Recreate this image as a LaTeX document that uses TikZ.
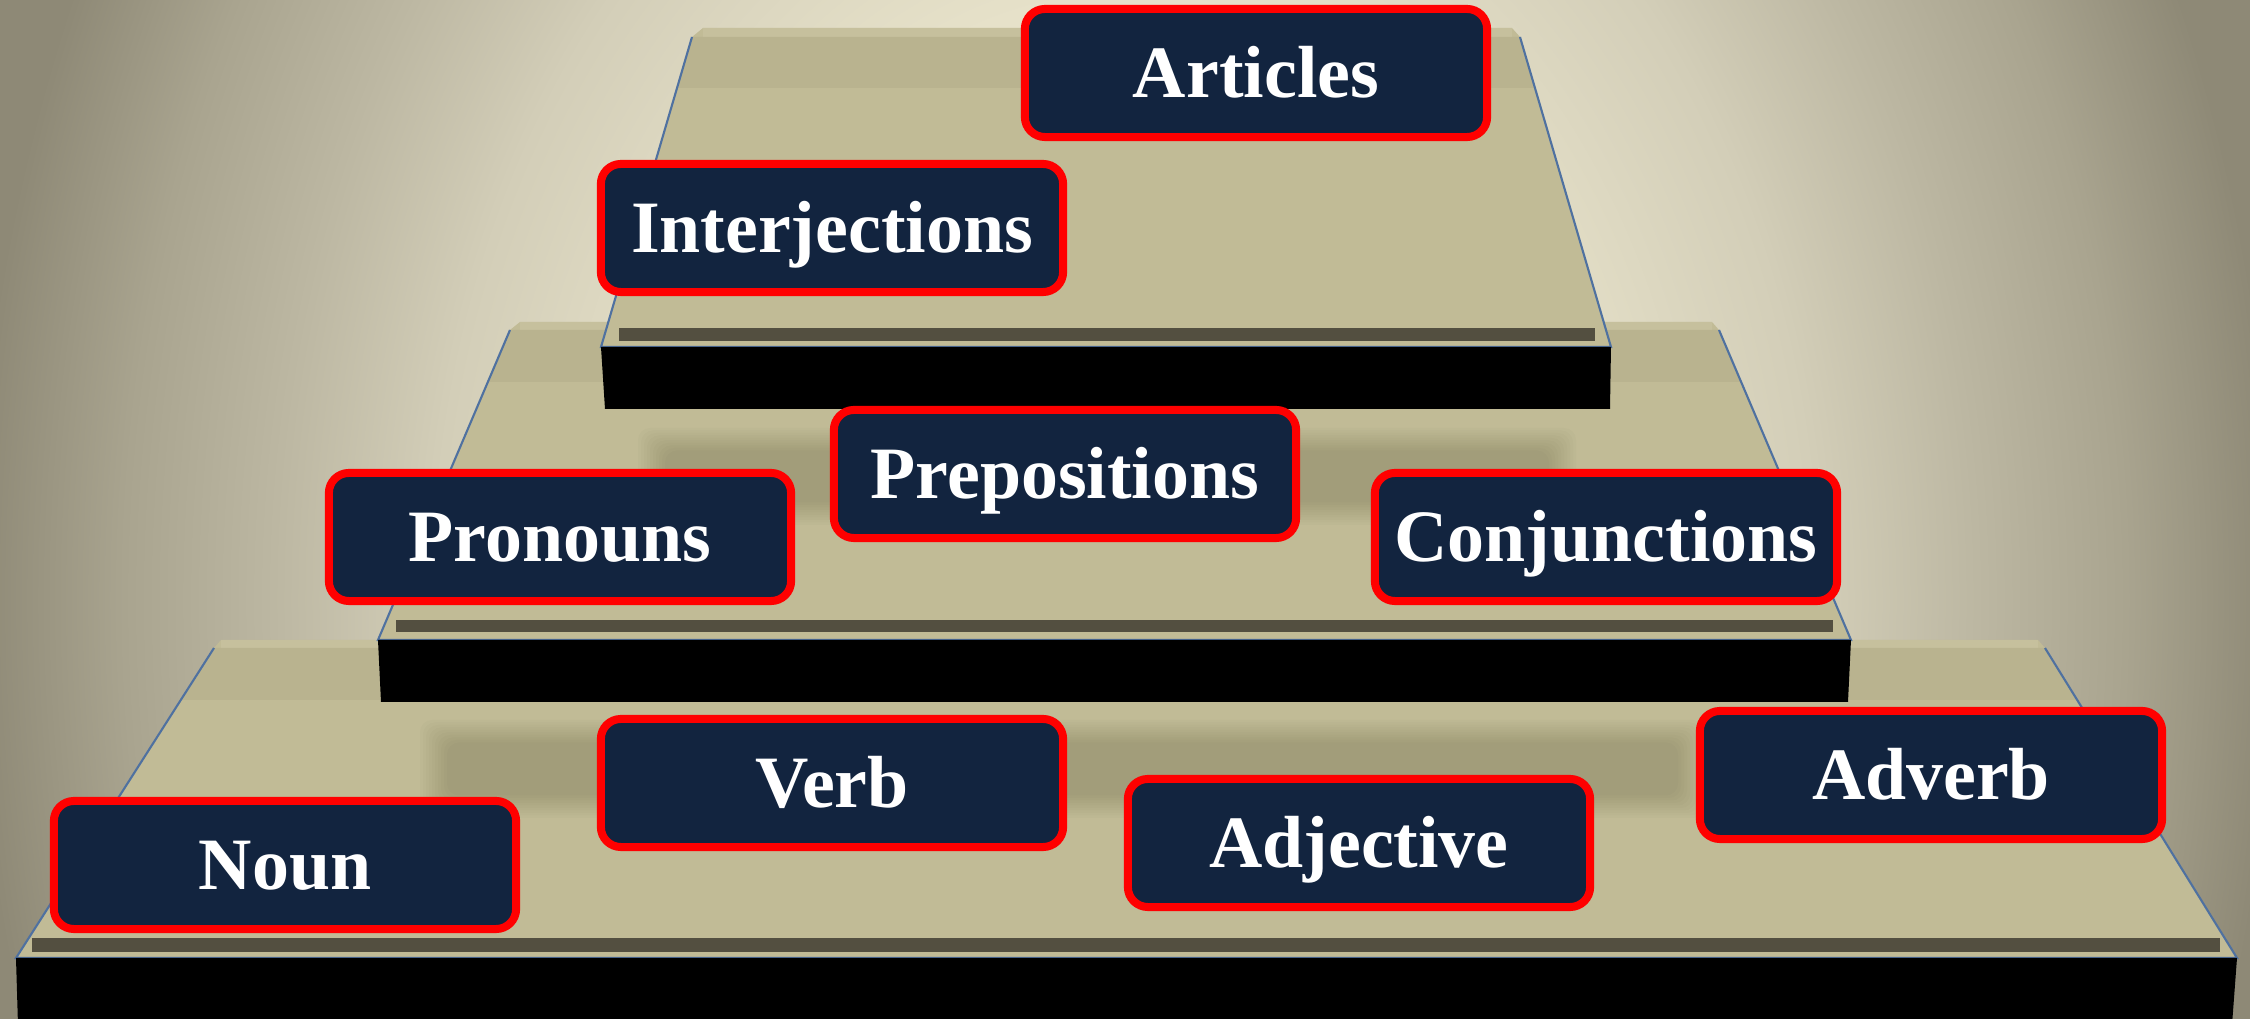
\documentclass[tikz,border=0pt]{standalone}
\usepackage{fontspec}
\setmainfont{Liberation Serif}
\definecolor{bgin}{HTML}{EFEBD3}
\definecolor{bga}{HTML}{E6E1C9}
\definecolor{bgb}{HTML}{D3CEB8}
\definecolor{bgc}{HTML}{BCB7A2}
\definecolor{bgd}{HTML}{A9A48F}
\definecolor{bgout}{HTML}{8E8976}
\definecolor{surf}{HTML}{C1BB96}
\definecolor{band}{HTML}{B9B38F}
\definecolor{lip}{HTML}{C6C09D}
\definecolor{strip}{HTML}{534F40}
\definecolor{edgeblue}{HTML}{4F71A0}
\definecolor{boxfill}{HTML}{12243F}
\definecolor{boxred}{HTML}{FF0000}
\pgfdeclareradialshading{bgshade}{\pgfpointorigin}{color(0bp)=(bgin); color(10bp)=(bga); color(15bp)=(bgb); color(18.5bp)=(bgc); color(21.75bp)=(bgd); color(25bp)=(bgout); color(50bp)=(bgout)}
\tikzset{
  edge/.style={draw=edgeblue, line width=0.6pt},
  softshadow/.style={black, opacity=0.017, rounded corners=0.12cm},
  wbox/.style={draw=boxred, line width=0.08cm, fill=boxfill, rounded corners=0.2cm,
    minimum width=4.62cm, minimum height=1.28cm, inner sep=0pt, text=white,
    font=\fontsize{21}{21}\selectfont\bfseries, text height=13.9pt, text depth=0pt},
}
\begin{document}
\begin{tikzpicture}[x=0.01cm,y=-0.01cm]
\useasboundingbox (0,0) rectangle (2250,1019);
\begin{scope}
\clip (0,0) rectangle (2250,1019);
\fill[bgout] (0,0) rectangle (2250,1019);
\shade[shading=bgshade] (1125,600) ellipse [x radius=11.5cm, y radius=15cm];

% ---------- bottom tier ----------
\fill[surf] (221,640) -- (2038,640) -- (2045,648) -- (2237,958) -- (16,958) -- (214,648) -- cycle;
\fill[lip] (221,640) rectangle (2038,648);
\fill[band] (214,648) -- (2045,648) -- (2078,700) -- (181,700) -- cycle;
\foreach \i in {0,...,9}
  \fill[softshadow] (420+\i*3,720+\i*2.5) rectangle (1705-\i*3,818-\i*2.5);
\draw[edge] (214,648) -- (16,958) -- (2237,958) -- (2045,648);
\fill[strip] (32,938) rectangle (2220,952);
\fill[black] (16,958) -- (2237,958) -- (2232,1025) -- (18,1025) -- cycle;

% ---------- middle tier ----------
\fill[surf] (520,322) -- (1712,322) -- (1719,330) -- (1851,640) -- (378,640) -- (510,330) -- cycle;
\fill[lip] (520,322) rectangle (1712,330);
\fill[band] (510,330) -- (1719,330) -- (1741,382) -- (488,382) -- cycle;
\foreach \i in {0,...,9}
  \fill[softshadow] (638+\i*3,428+\i*2.5) rectangle (1576-\i*3,525-\i*2.5);
\draw[edge] (510,330) -- (378,640) -- (1851,640) -- (1719,330);
\fill[strip] (396,620) rectangle (1833,632);
\fill[black] (378,640) -- (1851,640) -- (1848,702) -- (381,702) -- cycle;

% ---------- top tier ----------
\fill[surf] (703,28) -- (1512,28) -- (1520,37) -- (1611,347) -- (601,347) -- (692,37) -- cycle;
\fill[lip] (703,28) rectangle (1512,37);
\fill[band] (692,37) -- (1520,37) -- (1535,88) -- (677,88) -- cycle;
\draw[edge] (692,37) -- (601,347) -- (1611,347) -- (1520,37);
\fill[strip] (619,328) rectangle (1595,341);
\fill[black] (601,347) -- (1611,347) -- (1610,409) -- (605,409) -- cycle;
\end{scope}

% ---------- labels ----------
\node[wbox] (articles) at (1256,73) {Articles};
\node[wbox] (interj) at (832,228) {Interjections};
\node[wbox] (prep) at (1065,474) {Prepositions};
\node[wbox] (pron) at (560,537) {Pronouns};
\node[wbox] (conj) at (1606,537) {Conjunctions};
\node[wbox] (verb) at (832,783) {Verb};
\node[wbox] (adj) at (1359,843) {Adjective};
\node[wbox] (adv) at (1931,775) {Adverb};
\node[wbox] (noun) at (285,865) {Noun};
\end{tikzpicture}
\end{document}
